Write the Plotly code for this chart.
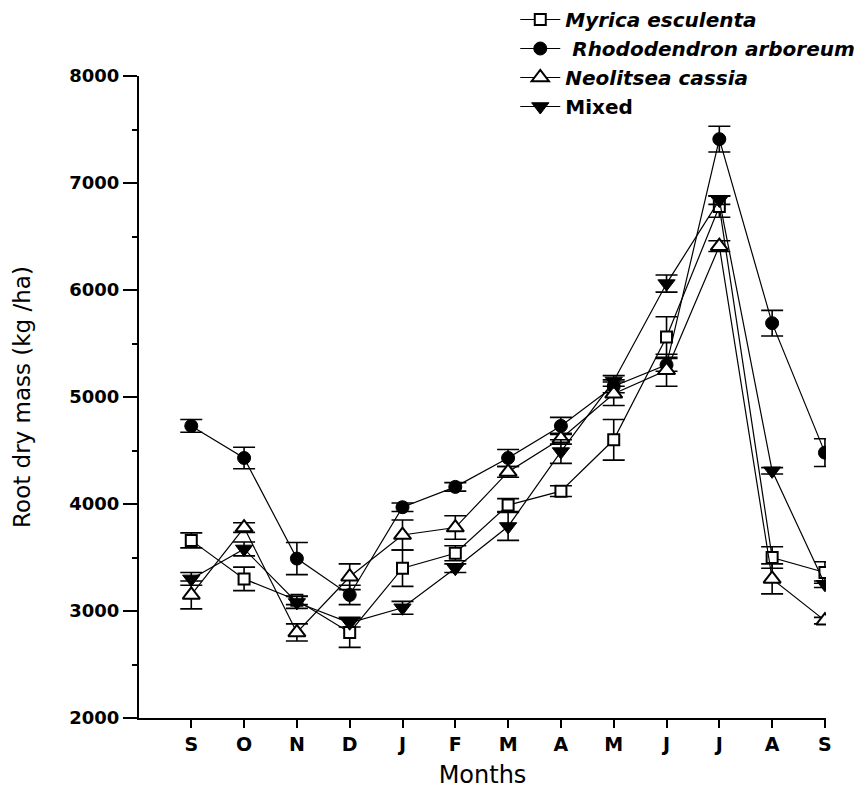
import plotly.graph_objects as go

# Sampling months (Sep to Sep)
months = ["S", "O", "N", "D", "J", "F", "M", "A", "M", "J", "J", "A", "S"]
x_pos = list(range(len(months)))

# Root dry mass (kg/ha) with standard errors
myrica = [3660, 3300, 3100, 2800, 3400, 3540, 3990, 4120, 4600, 5560, 6780, 3500, 3360]
myrica_err = [70, 110, 40, 140, 170, 70, 60, 50, 190, 190, 100, 100, 100]

rhodo = [4730, 4430, 3490, 3150, 3970, 4160, 4430, 4730, 5100, 5300, 7410, 5690, 4480]
rhodo_err = [60, 100, 150, 90, 40, 40, 80, 80, 60, 60, 120, 120, 130]

neolitsea = [3150, 3780, 2800, 3320, 3710, 3780, 4300, 4610, 5030, 5250, 6410, 3300, 2910]
neolitsea_err = [130, 45, 80, 120, 140, 110, 50, 50, 110, 150, 50, 140, 30]

mixed = [3300, 3580, 3080, 2890, 3030, 3400, 3790, 4490, 5150, 6060, 6840, 4310, 3250]
mixed_err = [60, 65, 55, 40, 60, 40, 130, 110, 50, 80, 40, 30, 30]

FONT = "DejaVu Sans, Arial, sans-serif"

series = [
    ("<i>Myrica esculenta</i>", myrica, myrica_err,
     dict(symbol="square", size=11, color="white", line=dict(color="black", width=2))),
    ("<i> Rhododendron arboreum</i>", rhodo, rhodo_err,
     dict(symbol="circle", size=13, color="black", line=dict(color="black", width=1))),
    ("<i>Neolitsea cassia</i>", neolitsea, neolitsea_err,
     dict(symbol="triangle-up", size=15, color="white", line=dict(color="black", width=2))),
    ("Mixed", mixed, mixed_err,
     dict(symbol="triangle-down", size=15, color="black", line=dict(color="black", width=1))),
]

fig = go.Figure()
for name, vals, errs, marker in series:
    fig.add_trace(go.Scatter(
        x=x_pos, y=vals, name=name, mode="lines+markers",
        line=dict(color="black", width=1.2),
        marker=marker,
        error_y=dict(type="data", array=errs, visible=True,
                     color="black", thickness=1.6, width=11),
    ))

fig.update_layout(
    width=866, height=792,
    margin=dict(l=139, r=40, t=76, b=74, autoexpand=False),
    paper_bgcolor="white", plot_bgcolor="white",
    font=dict(family=FONT, color="black"),
    showlegend=True,
    legend=dict(
        x=0.595, y=1.003, xanchor="left", yanchor="top",
        xref="container", yref="container",
        bgcolor="rgba(0,0,0,0)",
        font=dict(family=FONT, size=20, color="black", weight="bold"),
        tracegroupgap=0, itemwidth=40,
    ),
    xaxis=dict(
        range=[-0.99, 12.02],
        tickmode="array", tickvals=x_pos, ticktext=months,
        showline=True, linecolor="black", linewidth=2,
        ticks="outside", ticklen=8, tickwidth=2, tickcolor="black",
        tickfont=dict(family=FONT, size=19, weight="bold"),
        showgrid=False, zeroline=False,
        title=dict(text="Months", font=dict(family=FONT, size=24), standoff=12),
    ),
    yaxis=dict(
        range=[2000, 8000],
        tickmode="linear", tick0=2000, dtick=1000,
        showline=True, linecolor="black", linewidth=2,
        ticks="outside", ticklen=14, tickwidth=2, tickcolor="black",
        minor=dict(ticks="outside", ticklen=5, dtick=500, tickcolor="black", tickwidth=1.5),
        tickfont=dict(family=FONT, size=18, weight="bold"),
        showgrid=False, zeroline=False,
        title=dict(text="Root dry mass (kg /ha)", font=dict(family=FONT, size=23), standoff=32),
    ),
)

fig.write_html("out.html")
